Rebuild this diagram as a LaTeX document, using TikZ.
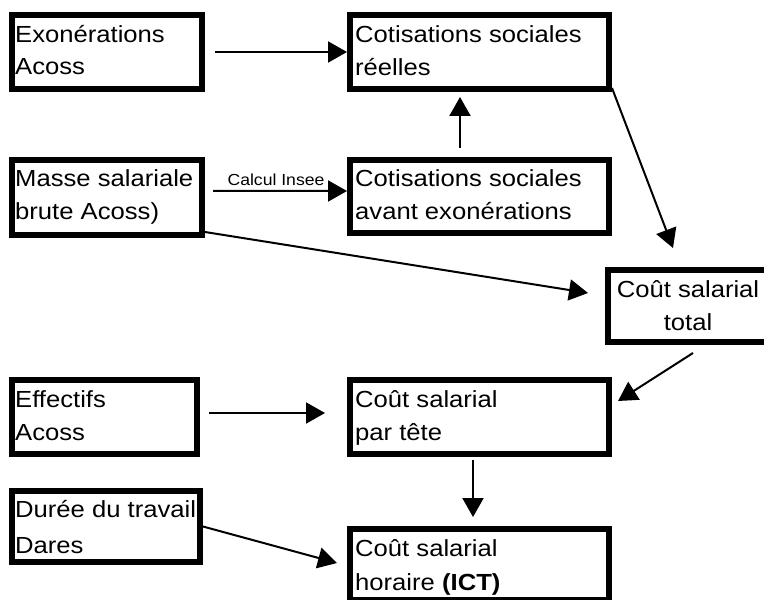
\documentclass[tikz,border=0pt]{standalone}
\usepackage{fontspec}
\setmainfont{Liberation Sans}[FakeStretch=1.1]
\usetikzlibrary{arrows.meta}
\begin{document}
\begin{tikzpicture}[x=1bp,y=-1bp,
  box/.style={draw=black, line width=6bp, inner sep=0pt, outer sep=3bp, fill=white},
  txt/.style={anchor=base west, inner sep=0pt, font=\fontsize{23.3bp}{28bp}\selectfont},
  ctxt/.style={anchor=base, inner sep=0pt, font=\fontsize{23.3bp}{28bp}\selectfont},
  arr/.style={-{Triangle[length=19bp,width=21bp]}, line width=2bp, black}]
\useasboundingbox (0,0) rectangle (764,600);
\fill[white] (0,0) rectangle (764,600);

% boxes
\node[box, minimum width=190bp, minimum height=74bp] (exo) at (107,52) {};
\node[box, minimum width=259bp, minimum height=74bp] (reel) at (479.5,52) {};
\node[box, minimum width=190bp, minimum height=75bp] (masse) at (107,197.5) {};
\node[box, minimum width=259bp, minimum height=73bp] (avant) at (479.5,196.5) {};
\node[box, minimum width=160bp, minimum height=72bp] (total) at (688,306) {};
\node[box, minimum width=185bp, minimum height=74bp] (eff) at (104.5,417) {};
\node[box, minimum width=259bp, minimum height=74bp] (tete) at (479.5,417) {};
\node[box, minimum width=188bp, minimum height=71bp] (duree) at (106,526.5) {};
\node[box, minimum width=259bp, minimum height=71bp] (horaire) at (479.5,564.5) {};

% texts
\node[txt] (exo1) at (15,43) {Exonérations};
\node[txt] (exo2) at (15,75) {Acoss};
\node[txt] (masse1) at (15,187) {Masse salariale};
\node[txt] (masse2) at (15,220) {brute Acoss)};
\node[txt] (reel1) at (355,43) {Cotisations sociales};
\node[txt] (reel2) at (355,76) {réelles};
\node[txt] (avant1) at (355,187) {Cotisations sociales};
\node[txt] (avant2) at (355,220) {avant exonérations};
\node[ctxt] (total1) at (688,297) {Coût salarial};
\node[ctxt] (total2) at (688,330) {total};
\node[txt] (eff1) at (15,407) {Effectifs};
\node[txt] (eff2) at (15,440) {Acoss};
\node[txt] (tete1) at (355,407) {Coût salarial};
\node[txt] (tete2) at (355,440) {par tête};
\node[txt] (duree1) at (15,517) {Durée du travail};
\node[txt] (duree2) at (15,553) {Dares};
\node[txt] (hor1) at (355,556) {Coût salarial};
\node[txt] (hor2) at (355,590) {horaire \textbf{(ICT)}};

% connectors
\draw[arr] ([xshift=10bp]exo.east) -- (reel.west);
\draw[arr] ([xshift=8bp,yshift=6.5bp]masse.east) -- ([yshift=5.5bp]avant.west)
  node[midway, anchor=south, inner sep=4bp, xshift=-4bp, font=\fontsize{16bp}{19bp}\selectfont] (calc) {Calcul Insee};
\draw[arr] ([xshift=-19.5bp,yshift=9bp]avant.north) -- ([xshift=-19.5bp,yshift=-5bp]reel.south);
\draw[arr] ([yshift=4bp]reel.south east) -- ([xshift=-15bp,yshift=19bp]total.north);
\draw[arr] ([yshift=6bp]masse.south east) -- ([xshift=-17bp,yshift=13bp]total.west);
\draw[arr] ([xshift=5bp,yshift=-8bp]total.south) -- ([xshift=6bp,yshift=16bp]tete.east);
\draw[arr] ([xshift=9bp,yshift=4bp]eff.east) -- ([xshift=-22bp,yshift=4bp]tete.west);
\draw[arr] ([xshift=-6.5bp,yshift=-3bp]tete.south) -- ([xshift=-6.5bp,yshift=9bp]horaire.north);
\draw[arr] (duree.east) -- ([xshift=-10bp,yshift=1.5bp]horaire.west);
\end{tikzpicture}
\end{document}
